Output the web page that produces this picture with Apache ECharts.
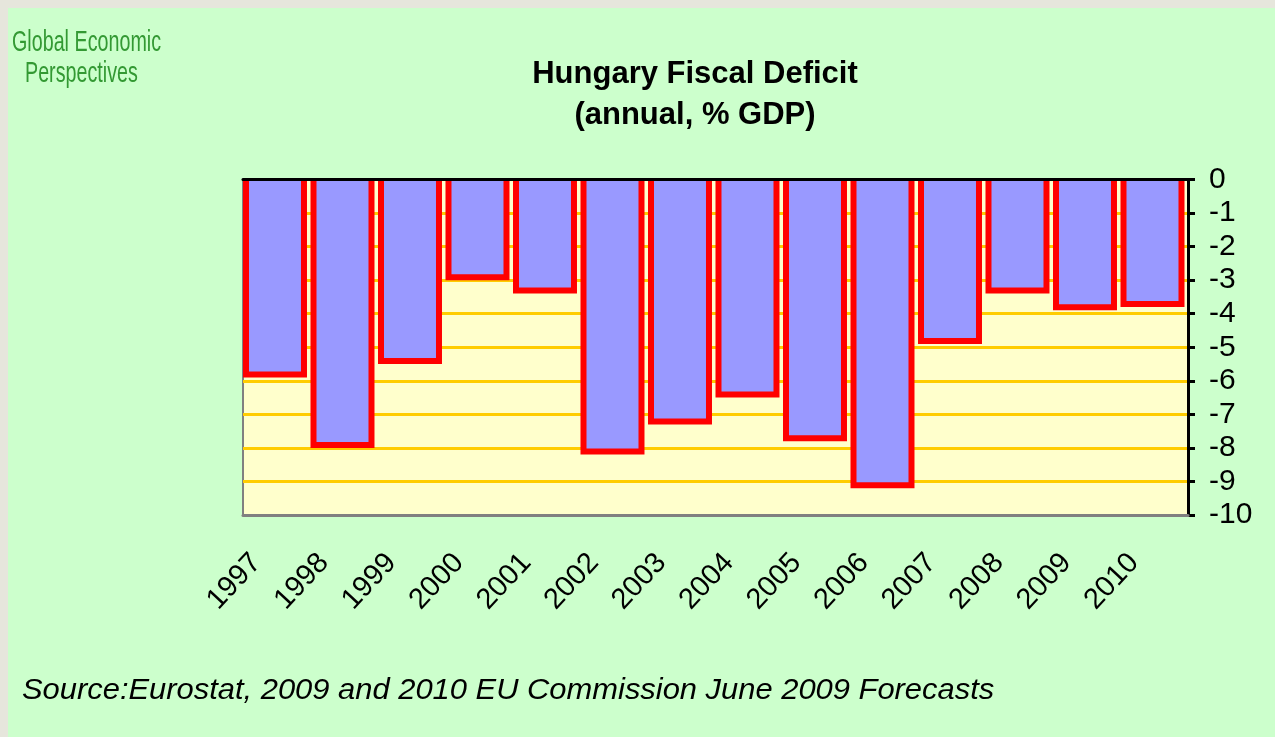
<!DOCTYPE html>
<html>
<head>
<meta charset="utf-8">
<script src="https://cdn.jsdelivr.net/npm/echarts@6/dist/echarts.min.js"></script>
<style>
html,body{margin:0;padding:0;background:#CCFFCC;}
#chart{width:1275px;height:737px;}
</style>
</head>
<body>
<div id="chart"></div>
<script>
// ---- data ----
const years = ['1997','1998','1999','2000','2001','2002','2003','2004','2005','2006','2007','2008','2009','2010'];
const deficit = [-5.9, -8.0, -5.5, -3.0, -3.4, -8.2, -7.3, -6.5, -7.8, -9.2, -4.9, -3.4, -3.9, -3.8];
const titleLines = ['Hungary Fiscal Deficit', '(annual, % GDP)'];
const logoLines = ['Global Economic', 'Perspectives'];
const sourceText = 'Source:Eurostat, 2009 and 2010 EU Commission June 2009 Forecasts';

const chart = echarts.init(document.getElementById('chart'), null, {renderer: 'canvas'});
const font = '"Liberation Sans", Arial, sans-serif';

function renderBar(params, api) {
  const xi = api.value(0);
  const v = api.value(1);
  const p0 = api.coord([xi, 0]);
  const p1 = api.coord([xi, v]);
  const band = api.size([1, 0])[0];
  const w = band * 0.948;
  const bw = 6;
  const x = p0[0] - band * 0.026 - w / 2;
  const h = p1[1] - p0[1];
  return {
    type: 'group',
    children: [
      {type: 'rect', shape: {x: x, y: p0[1], width: w, height: h}, style: {fill: '#FF0000'}},
      {type: 'rect', shape: {x: x + bw, y: p0[1], width: w - 2 * bw, height: h - bw}, style: {fill: '#9999FF'}}
    ]
  };
}

chart.setOption({
  backgroundColor: '#CCFFCC',
  animation: false,
  title: {
    text: titleLines.join('\n'),
    left: 690,
    top: 49,
    textAlign: 'center',
    textStyle: {fontFamily: font, fontSize: 31, fontWeight: 'bold', color: '#000', lineHeight: 41}
  },
  grid: {
    left: 243, right: 87, top: 179.5, bottom: 222,
    show: true, backgroundColor: '#FFFFCC', borderColor: '#808080', borderWidth: 2
  },
  xAxis: [
    {
      type: 'category', data: years, position: 'top', boundaryGap: true, z: 10,
      axisLine: {lineStyle: {color: '#000', width: 3}},
      axisTick: {inside: true, length: 9, lineStyle: {color: '#000', width: 3}},
      axisLabel: {show: false},
      splitLine: {show: false}
    },
    {
      type: 'category', data: years, position: 'bottom', boundaryGap: true, z: 10,
      axisLine: {lineStyle: {color: '#808080', width: 3}},
      axisTick: {show: false},
      axisLabel: {show: true, rotate: 47, margin: 21, interval: 0, padding: [0, 30, 0, 0],
        fontFamily: font, fontSize: 29, color: '#000'},
      splitLine: {show: false}
    }
  ],
  yAxis: {
    type: 'value', position: 'right', min: -10, max: 0, interval: 1,
    axisLine: {show: true, lineStyle: {color: '#000', width: 3}},
    axisTick: {show: true, length: 7, lineStyle: {color: '#000', width: 3}},
    axisLabel: {margin: 21, fontFamily: font, fontSize: 30, color: '#000'},
    splitLine: {lineStyle: {color: '#FFCC00', width: 3}}
  },
  series: [{
    type: 'custom', xAxisIndex: 0, yAxisIndex: 0,
    data: deficit.map((v, i) => [i, v]),
    encode: {x: 0, y: 1},
    renderItem: renderBar
  }],
  graphic: [
    {type: 'rect', shape: {x: 0, y: 0, width: 1275, height: 8}, style: {fill: '#E6E6DC'}, silent: true},
    {type: 'rect', shape: {x: 0, y: 0, width: 8, height: 737}, style: {fill: '#E6E6DC'}, silent: true},
    {type: 'text', x: 12, y: 42.5, scaleX: 0.68, originX: 0,
      style: {text: logoLines[0], font: '29px ' + font, fill: '#339933', verticalAlign: 'middle', align: 'left'}},
    {type: 'text', x: 25, y: 74, scaleX: 0.68, originX: 0,
      style: {text: logoLines[1], font: '29px ' + font, fill: '#339933', verticalAlign: 'middle', align: 'left'}},
    {type: 'text', x: 22, y: 691, scaleX: 1.03, originX: 0,
      style: {text: sourceText, font: 'italic 30px ' + font, fill: '#000', verticalAlign: 'middle', align: 'left'}}
  ]
});
</script>
</body>
</html>
